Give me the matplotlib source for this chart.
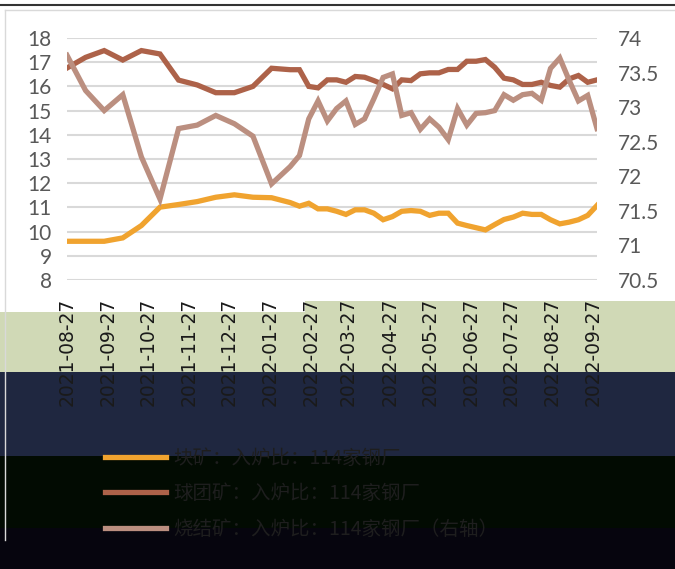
import matplotlib
matplotlib.use("Agg")
import matplotlib.pyplot as plt
import matplotlib.dates as mdates
from matplotlib.patches import Rectangle
from matplotlib.lines import Line2D
import pandas as pd

plt.rcParams['font.family'] = ['DejaVu Sans']

dates = ["2021-08-27", "2021-09-10", "2021-09-24", "2021-10-08", "2021-10-22",
         "2021-11-05", "2021-11-19", "2021-12-03", "2021-12-17", "2021-12-31",
         "2022-01-14", "2022-01-28",
         "2022-02-11", "2022-02-18", "2022-02-25", "2022-03-04", "2022-03-11",
         "2022-03-18", "2022-03-25", "2022-04-01", "2022-04-08", "2022-04-15",
         "2022-04-22", "2022-04-29", "2022-05-06", "2022-05-13", "2022-05-20",
         "2022-05-27", "2022-06-03", "2022-06-10", "2022-06-17", "2022-06-24",
         "2022-07-01", "2022-07-08", "2022-07-15", "2022-07-22", "2022-07-29",
         "2022-08-05", "2022-08-12", "2022-08-19", "2022-08-26", "2022-09-02",
         "2022-09-09", "2022-09-16", "2022-09-23", "2022-09-30"]

lump_ore = [9.60, 9.60, 9.60, 9.74, 10.25, 11.01, 11.12, 11.24, 11.42, 11.52, 11.42, 11.40,
            11.20, 11.05, 11.17, 10.94, 10.94, 10.84, 10.71, 10.90, 10.90, 10.76, 10.49,
            10.62, 10.84, 10.87, 10.84, 10.67, 10.76, 10.76, 10.35, 10.25, 10.16, 10.07,
            10.29, 10.50, 10.60, 10.76, 10.71, 10.71, 10.49, 10.32, 10.39, 10.49, 10.67, 11.08]

pellet = [16.76, 17.20, 17.48, 17.09, 17.48, 17.34, 16.26, 16.06, 15.74, 15.74, 16.00, 16.75,
          16.69, 16.69, 16.00, 15.94, 16.27, 16.27, 16.17, 16.41, 16.38, 16.24, 16.08,
          15.90, 16.27, 16.24, 16.52, 16.56, 16.56, 16.70, 16.70, 17.04, 17.04, 17.11,
          16.79, 16.34, 16.27, 16.08, 16.08, 16.17, 16.04, 15.97, 16.31, 16.45, 16.17, 16.27]

sinter = [73.75, 73.24, 72.95, 73.18, 72.28, 71.67, 72.69, 72.74, 72.88, 72.76, 72.58, 71.89,
          72.14, 72.30, 72.83, 73.09, 72.80, 72.98, 73.09, 72.75, 72.83, 73.12, 73.43,
          73.48, 72.88, 72.92, 72.68, 72.83, 72.71, 72.53, 72.98, 72.74, 72.91, 72.92,
          72.95, 73.18, 73.10, 73.18, 73.20, 73.10, 73.56, 73.71, 73.39, 73.09, 73.17, 72.69]

tick_dates = ["2021-08-27", "2021-09-27", "2021-10-27", "2021-11-27", "2021-12-27",
              "2022-01-27", "2022-02-27", "2022-03-27", "2022-04-27", "2022-05-27",
              "2022-06-27", "2022-07-27", "2022-08-27", "2022-09-27"]

labels = ["块矿：入炉比：114家钢厂",
          "球团矿：入炉比：114家钢厂",
          "烧结矿：入炉比：114家钢厂（右轴）"]

c_orange = "#f0a32f"
c_dark = "#ad6249"
c_light = "#bb8f80"

W, H = 675, 569
fig = plt.figure(figsize=(W / 100, H / 100), dpi=100)
fig.patch.set_facecolor("white")

def frect(x0, y0, x1, y1, color):
    fig.add_artist(Rectangle((x0 / W, 1 - y1 / H), (x1 - x0) / W, (y1 - y0) / H,
                             transform=fig.transFigure, facecolor=color,
                             edgecolor="none", zorder=-5))

# bands present in the reference picture
frect(0, 312, 305, 372, "#d0d9b6")
frect(305, 301, 675, 372, "#d0d9b6")
frect(0, 372, 675, 456, "#1f2740")
frect(0, 456, 675, 528, "#020b02")
frect(0, 528, 675, 569, "#06050e")

# borders
fig.add_artist(Line2D([0, 1], [1 - 5 / H, 1 - 5 / H], transform=fig.transFigure,
                      color="#333333", lw=1.5, zorder=-4))
fig.add_artist(Line2D([5 / W, 1], [1 - 9.5 / H, 1 - 9.5 / H], transform=fig.transFigure,
                      color="#d9d9d9", lw=1.0, zorder=-4))
fig.add_artist(Line2D([5 / W, 5 / W], [1 - 9.5 / H, 1 - 540 / H], transform=fig.transFigure,
                      color="#d9d9d9", lw=1.0, zorder=-4))

x = pd.to_datetime(dates)
ax = fig.add_axes([67 / W, 1 - 280 / H, (597 - 67) / W, (280 - 38) / H])
ax.set_facecolor("none")
ax2 = ax.twinx()

ax.plot(x, lump_ore, color=c_orange, lw=3.8, solid_joinstyle="miter", zorder=3)
ax.plot(x, pellet, color=c_dark, lw=3.8, solid_joinstyle="miter", zorder=3)
ax2.plot(x, sinter, color=c_light, lw=3.8, solid_joinstyle="miter", zorder=3)

ax.set_ylim(8, 18)
ax.set_yticks(range(8, 19))
ax2.set_ylim(70.5, 74)
ax2.set_yticks([70.5, 71, 71.5, 72, 72.5, 73, 73.5, 74])
ax2.set_yticklabels(["70.5", "71", "71.5", "72", "72.5", "73", "73.5", "74"])

ax.set_xlim(pd.Timestamp("2021-08-27"), pd.Timestamp("2022-09-30"))
ax.set_xticks(pd.to_datetime(tick_dates))
ax.xaxis.set_major_formatter(mdates.DateFormatter("%Y-%m-%d"))

ax.grid(axis="y", color="#d9d9d9", lw=1.5)
ax.set_axisbelow(True)
for a in (ax, ax2):
    for s in a.spines.values():
        s.set_visible(False)

ax.tick_params(axis="y", length=0, pad=11, labelsize=15, labelcolor="#595959")
ax2.tick_params(axis="y", length=0, pad=15, labelsize=15, labelcolor="#595959")
for t in ax.get_yticklabels() + ax2.get_yticklabels():
    t.set_family(["Lato", "DejaVu Sans"])
ax.tick_params(axis="x", length=0, pad=13, labelsize=13.5, labelcolor="#1a1a1a",
               labelrotation=90)

handles = [Line2D([], [], color=c_orange, lw=3.8),
           Line2D([], [], color=c_dark, lw=3.8),
           Line2D([], [], color=c_light, lw=3.8)]
fig.legend(handles, labels, loc="upper left", bbox_to_anchor=(88 / W, 1 - 430 / H),
           frameon=False, handlelength=3.1, handletextpad=0.4, labelspacing=0.75,
           prop={"family": ["Noto Sans CJK SC", "DejaVu Sans"], "size": 14},
           labelcolor="#1e1e1e")

fig.savefig("out.png", dpi=100)
